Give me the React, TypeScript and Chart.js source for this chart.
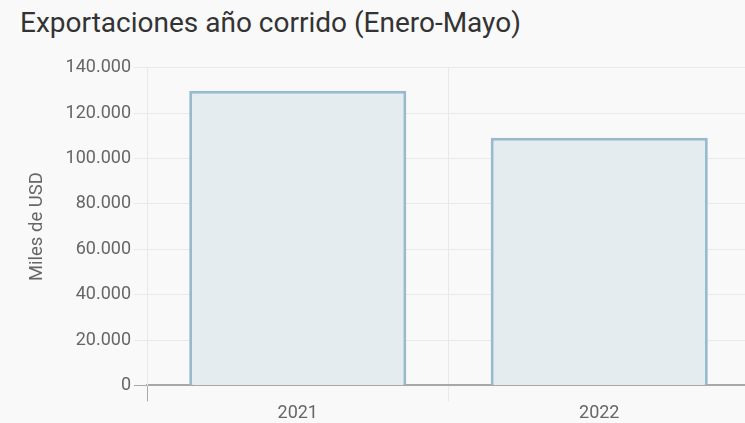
import React, { useEffect, useRef } from "react";
import { Chart, registerables } from "chart.js";

Chart.register(...registerables);

const categories = ["2021", "2022"];
const exportValues = [129900, 109200];
const yTicksMax = 140000;
const yTicksStep = 20000;
const chartTitle = "Exportaciones año corrido (Enero-Mayo)";
const yAxisTitle = "Miles de USD";

function fmt(v: number): string {
  return String(Math.round(v)).replace(/\B(?=(\d{3})+(?!\d))/g, ".");
}

export default function App() {
  const ref = useRef<HTMLCanvasElement | null>(null);
  useEffect(() => {
    if (!ref.current) return;
    const chart = new Chart(ref.current, {
      type: "bar",
      data: {
        labels: categories,
        datasets: [
          {
            data: exportValues,
            backgroundColor: "#e4ecf0",
            borderColor: "#97bacd",
            borderWidth: 3,
          },
        ],
      },
      options: {
        responsive: false,
        animation: false,
        maintainAspectRatio: false,
        layout: { padding: { left: 22, right: 0, top: 2, bottom: 0 } },
        plugins: {
          legend: { display: false },
          tooltip: { enabled: false },
          title: { display: false },
        },
        scales: {
          x: {
            grid: {
              color: "#e9e9e9",
              tickColor: (ctx: any) => (ctx.index === 0 ? "#a8a8a8" : "#e9e9e9"),
              tickLength: 16,
              lineWidth: 1,
            },
            border: { color: "#a8a8a8", width: 2 },
            ticks: {
              color: "#666",
              font: { family: "Roboto", size: 18 },
              padding: 1,
            },
          },
          y: {
            min: 0,
            max: yTicksMax,
            afterFit: (s: any) => {
              s.width = 125;
            },
            grid: {
              color: (ctx: any) => (ctx.tick && ctx.tick.value === 0 ? "#a8a8a8" : "#e9e9e9"),
              tickLength: 13,
            },
            border: { color: "#e9e9e9" },
            ticks: {
              stepSize: yTicksStep,
              color: "#666",
              font: { family: "Roboto", size: 18 },
              padding: 3,
              callback: (v: any) => fmt(Number(v)),
            },
            title: {
              display: true,
              text: yAxisTitle,
              color: "#666",
              font: { family: "Roboto", size: 18.5 },
              padding: { top: 4, bottom: 0 },
            },
          },
        },
      },
    });
    return () => chart.destroy();
  }, []);

  return (
    <div
      style={{
        position: "fixed",
        left: 0,
        top: 0,
        width: 745,
        height: 423,
        overflow: "hidden",
        background: "#f9f9f9",
      }}
    >
      <div
        style={{
          position: "absolute",
          left: 20,
          top: 6,
          fontFamily: "Roboto",
          fontSize: 28,
          color: "#333",
          whiteSpace: "nowrap",
        }}
      >
        {chartTitle}
      </div>
      <canvas
        ref={ref}
        width={750}
        height={371}
        style={{ position: "absolute", left: 0, top: 54, width: 750, height: 371 }}
      />
    </div>
  );
}
